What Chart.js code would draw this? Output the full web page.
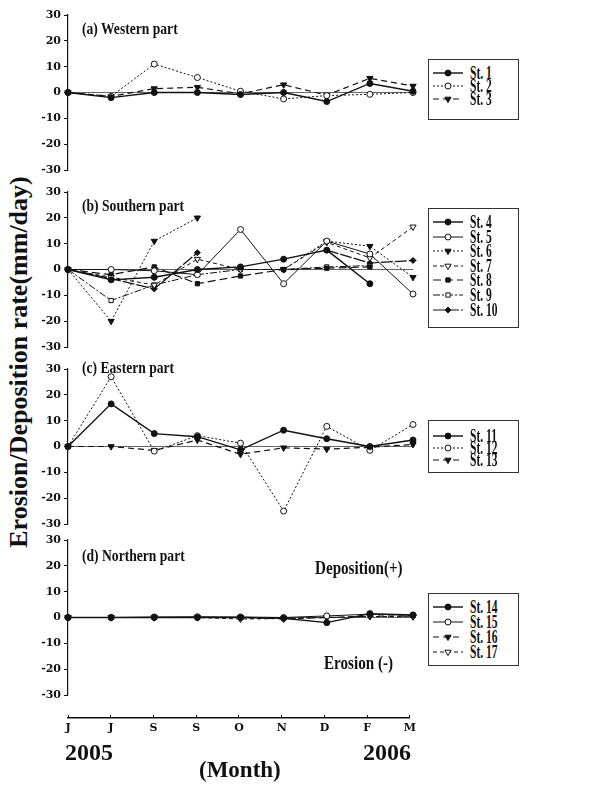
<!DOCTYPE html>
<html>
<head>
<meta charset="utf-8">
<script src="https://cdn.jsdelivr.net/npm/chart.js@4.4.1/dist/chart.umd.min.js"></script>
<style>
  body { margin: 0; background: #fff; width: 614px; height: 785px; position: relative; overflow: hidden; font-family: 'Liberation Serif', 'Times New Roman', serif; color: #111; }
  canvas.panel { position: absolute; left: 0; }
  .txt { position: absolute; font-weight: bold; white-space: nowrap; transform-origin: 0 50%; line-height: 1; }
  .legend { position: absolute; left: 428px; width: 91px; border: 1px solid #333; box-sizing: border-box; }
  .legend .row { position: absolute; left: 3px; height: 14px; display: flex; align-items: center; }
  .legend .row span { font-weight: bold; font-size: 18px; display: inline-block; transform: scaleX(.64); transform-origin: 0 50%; margin-left: 6px; }
  #ytitle { position: absolute; left: 19px; top: 362px; font-weight: bold; font-size: 26px; white-space: nowrap; transform: translate(-50%, -50%) rotate(-90deg); }
</style>
</head>
<body>
<div id="ytitle">Erosion/Deposition rate(mm/day)</div>
<script>
const months = ['J', 'J', 'S', 'S', 'O', 'N', 'D', 'F', 'M'];

// (a) Western part
const st1 = [0, -2, 0, 0, -0.8, 0, -3.5, 3.5, 0.5];
const st2 = [0, -1.5, 11, 5.8, 0.5, -2.5, -1.2, -0.7, 0];
const st3 = [0, -1.5, 1.5, 2, -0.5, 3, -1, 5.5, 2.5];
// (b) Southern part
const st4 = [0, -4, -3, 0, 1, 4, 7.5, -5.5, null];
const st5 = [0, 0, -0.5, -2, 15.5, -5.5, 11, 6, -9.5];
const st6 = [0, -20, 11, 20, null, 0, 11, 9, -3];
const st7 = [0, -3, -6, 4, 0, 0, 10.5, 4.5, 16.5];
const st8 = [0, -2, 1, -5.5, -2.5, 0, 0.5, 1, null];
const st9 = [0, -12, -6, -2, 0, 0, 1, 1.5, null];
const st10 = [0, -3.5, -7.5, 6.5, null, null, 7.5, 2.5, 3.5];
// (c) Eastern part
const st11 = [0, 16.5, 5, 3.8, -1.3, 6.3, 3, 0, 2.5];
const st12 = [0, 27, -1.8, 4.2, 1.3, -25, 7.8, -1.5, 8.5];
const st13 = [0, 0, -1.5, 2.5, -3, -0.5, -1, -0.3, 0.8];
// (d) Northern part
const st14 = [0, 0, 0, 0, 0, -0.3, -2, 1.5, 1];
const st15 = [0, 0, 0.2, 0.3, 0.2, 0, 0.6, 1.3, 0.8];
const st16 = [0, 0, 0, 0, 0, -0.5, 0, 0.5, 0.5];
const st17 = [0, 0, 0, 0, -0.6, -0.4, 0, 0.4, 0.3];

// line looks: dash pattern, marker, filled or open
const LOOK = {
  solidDot:   { dash: [], style: 'circle', fill: true, width: 1.4 },
  solidRing:  { dash: [], style: 'circle', fill: false, width: 1 },
  dotRing:    { dash: [2, 2], style: 'circle', fill: false, width: 1 },
  dotTri:     { dash: [2, 2], style: 'triangle', fill: true, width: 1 },
  dashTri:    { dash: [6, 4], style: 'triangle', fill: true, width: 1.2 },
  dashOpenTri:{ dash: [4, 3], style: 'triangle', fill: false, width: 1 },
  dashSquare: { dash: [8, 4], style: 'rect', fill: true, width: 1.2 },
  dashDotBox: { dash: [7, 2, 2, 2], style: 'rect', fill: false, width: 1 },
  longDiamond:{ dash: [12, 2], style: 'rectRot', fill: true, width: 1.2 },
};

function station(label, data, look) {
  const tri = look.style === 'triangle';
  return {
    label, data, look,
    borderColor: '#111',
    borderWidth: look.width,
    borderDash: look.dash,
    pointStyle: look.style,
    pointRotation: tri ? 180 : 0,
    pointRadius: tri ? 3.6 : 3,
    pointBorderWidth: 1,
    pointBorderColor: '#111',
    pointBackgroundColor: look.fill ? '#111' : '#fff',
    tension: 0,
    spanGaps: false,
  };
}

const panels = [
  { top: 15, title: '(a)  Western part', titleY: 28,
    legend: { top: 59, height: 61, rows: [73, 86, 99] },
    sets: [station('St. 1', st1, LOOK.solidDot), station('St. 2', st2, LOOK.dotRing), station('St. 3', st3, LOOK.dashTri)] },
  { top: 192, title: '(b)  Southern part', titleY: 205,
    legend: { top: 208, height: 120, rows: [222, 237, 251, 266, 280, 295, 310] },
    sets: [station('St. 4', st4, LOOK.solidDot), station('St. 5', st5, LOOK.solidRing), station('St. 6', st6, LOOK.dotTri),
           station('St. 7', st7, LOOK.dashOpenTri), station('St. 8', st8, LOOK.dashSquare), station('St. 9', st9, LOOK.dashDotBox),
           station('St. 10', st10, LOOK.longDiamond)] },
  { top: 369, title: '(c)  Eastern part', titleY: 367,
    legend: { top: 420, height: 53, rows: [436, 448, 460] },
    sets: [station('St. 11', st11, LOOK.solidDot), station('St. 12', st12, LOOK.dotRing), station('St. 13', st13, LOOK.dashTri)] },
  { top: 540, title: '(d)  Northern part', titleY: 555,
    legend: { top: 593, height: 73, rows: [607, 622, 637, 652] },
    sets: [station('St. 14', st14, LOOK.solidDot), station('St. 15', st15, LOOK.solidRing), station('St. 16', st16, LOOK.dashTri),
           station('St. 17', st17, LOOK.dashOpenTri)] },
];

const PLOT_H = 155, PAD = 10, CANVAS_W = 420, AXIS_X = 68;

function addText(str, x, y, size, scale) {
  const el = document.createElement('div');
  el.className = 'txt';
  el.textContent = str;
  el.style.left = x + 'px';
  el.style.top = (y - size / 2) + 'px';
  el.style.fontSize = size + 'px';
  el.style.transform = 'scaleX(' + scale + ')';
  document.body.appendChild(el);
}

function sample(ds) {
  const c = document.createElement('canvas');
  c.width = 32; c.height = 14;
  const ctx = c.getContext('2d');
  ctx.strokeStyle = '#111';
  ctx.lineWidth = ds.borderWidth;
  ctx.setLineDash(ds.look.dash);
  ctx.beginPath(); ctx.moveTo(1, 7); ctx.lineTo(31, 7); ctx.stroke();
  ctx.setLineDash([]);
  ctx.fillStyle = ds.pointBackgroundColor;
  ctx.lineWidth = 1;
  Chart.helpers.drawPoint(ctx, { pointStyle: ds.pointStyle, rotation: ds.pointRotation, radius: ds.pointRadius, borderWidth: 1 }, 16, 7);
  return c;
}

function addLegend(p) {
  const box = document.createElement('div');
  box.className = 'legend';
  box.style.top = p.legend.top + 'px';
  box.style.height = p.legend.height + 'px';
  p.sets.forEach((ds, i) => {
    const row = document.createElement('div');
    row.className = 'row';
    row.style.top = (p.legend.rows[i] - p.legend.top - 8) + 'px';
    row.appendChild(sample(ds));
    const s = document.createElement('span');
    s.textContent = ds.label;
    row.appendChild(s);
    box.appendChild(row);
  });
  document.body.appendChild(box);
}

const tickFont = { family: 'DejaVu Serif', weight: 'bold', size: 11 };

panels.forEach(p => {
  const cv = document.createElement('canvas');
  cv.className = 'panel';
  cv.width = CANVAS_W; cv.height = PLOT_H + 2 * PAD;
  cv.style.top = (p.top - PAD) + 'px';
  document.body.appendChild(cv);

  new Chart(cv.getContext('2d'), {
    type: 'line',
    data: { labels: months, datasets: p.sets },
    options: {
      responsive: false,
      animation: false,
      devicePixelRatio: 1,
      layout: { padding: { top: PAD, bottom: PAD, left: 0, right: 7 } },
      plugins: { legend: { display: false }, tooltip: { enabled: false } },
      scales: {
        x: { display: false, offset: false },
        y: {
          min: -30, max: 30,
          afterFit: s => { s.width = AXIS_X; },
          ticks: { stepSize: 10, font: tickFont, color: '#111', padding: 3 },
          border: { display: true, color: '#111', width: 1.2 },
          grid: {
            drawOnChartArea: true,
            tickLength: 4,
            tickColor: '#111',
            color: ctx => (ctx.tick && ctx.tick.value === 0 ? '#666' : 'rgba(0,0,0,0)'),
          },
        },
      },
    },
  });

  addText(p.title, 82, p.titleY, 17, 0.8);
  addLegend(p);
});

// shared month axis under the last panel
const axCanvas = document.createElement('canvas');
axCanvas.className = 'panel';
axCanvas.width = CANVAS_W; axCanvas.height = 45;
axCanvas.style.top = '700px';
document.body.appendChild(axCanvas);
new Chart(axCanvas.getContext('2d'), {
  type: 'line',
  data: { labels: months, datasets: [] },
  options: {
    responsive: false,
    animation: false,
    devicePixelRatio: 1,
    layout: { padding: { top: 15, bottom: 0, left: AXIS_X, right: 5 } },
    plugins: { legend: { display: false }, tooltip: { enabled: false } },
    scales: {
      y: { display: false },
      x: {
        offset: false,
        afterFit: s => { s.height = 27; },
        ticks: { font: tickFont, color: '#111', padding: 4, maxRotation: 0, autoSkip: false },
        border: { display: true, color: '#111', width: 1.5 },
        grid: { drawOnChartArea: true, drawTicks: false, color: '#111', lineWidth: 1 },
      },
    },
  },
});

addText('Deposition(+)', 315, 568, 18, 0.84);
addText('Erosion (-)', 324, 663, 18, 0.84);
addText('2005', 65, 752, 24, 1);
addText('2006', 363, 752, 24, 1);
addText('(Month)', 199, 769, 23, 1);
</script>
</body>
</html>
